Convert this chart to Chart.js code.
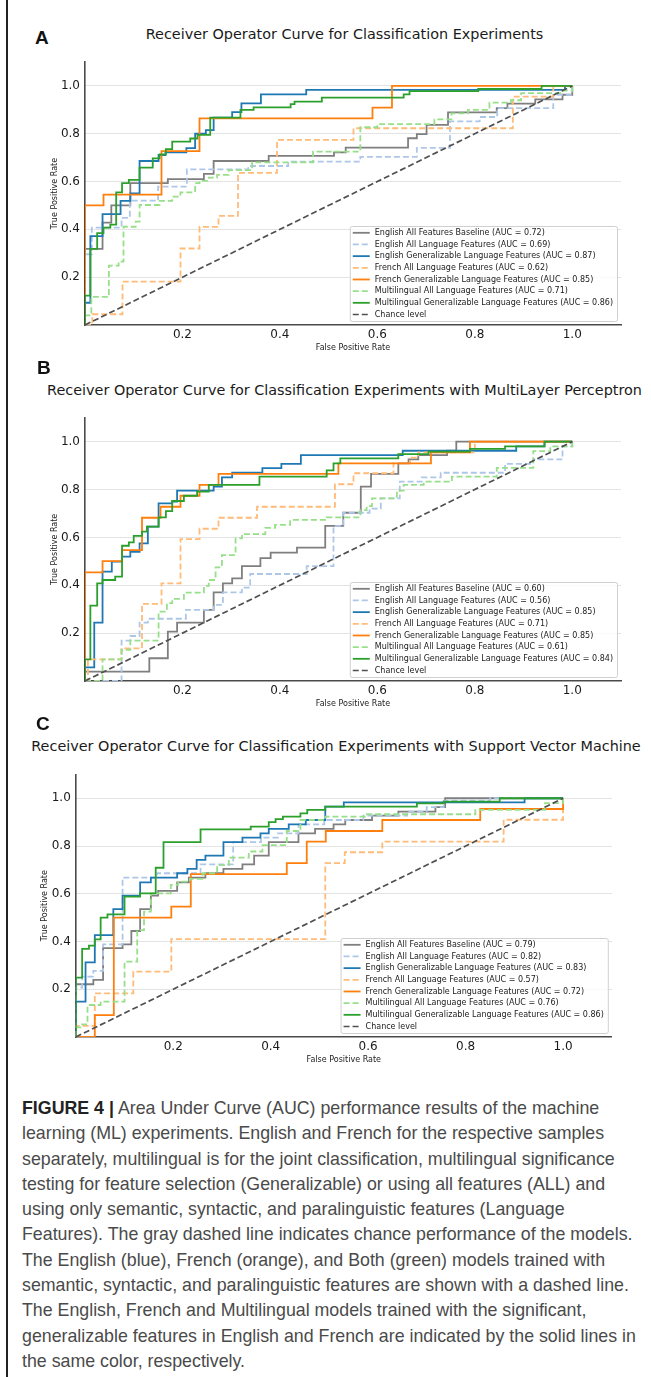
<!DOCTYPE html>
<html lang="en">
<head>
  <meta charset="UTF-8">
  <title>Figure 4 - ROC curves</title>
  <script src="https://cdn.jsdelivr.net/npm/chart.js"></script>
  <style>
    body { margin: 0; background: #fff; }
    #page { position: relative; width: 651px; height: 1377px; overflow: hidden; background: #fff; }
    canvas { position: absolute; left: 0; }
    .bar { position: absolute; left: 6px; top: 0; width: 1.5px; height: 1377px; background: #222; }
    .lab { position: absolute; font: bold 19px "Liberation Sans", Arial, sans-serif; color: #111; line-height: 20px; }
    .ttl { position: absolute; left: 0; text-align: center; font: 14.4px "DejaVu Sans", sans-serif; color: #1a1a1a; line-height: 18px; white-space: nowrap; }
    #caption { position: absolute; left: 22px; top: 1096px; font: 17.8px "Liberation Sans", Arial, sans-serif; color: #4a4a4a; line-height: 25.3px; white-space: nowrap; }
    #caption b { color: #222; }
  </style>
</head>
<body>
<div id="page">
  <div class="bar"></div>

  <div class="lab" style="left:35px;top:28px">A</div>
  <div class="ttl" style="width:689px;top:25px">Receiver Operator Curve for Classification Experiments</div>
  <canvas id="chartA" width="651" height="360" style="top:0"></canvas>

  <div class="lab" style="left:37px;top:358px">B</div>
  <div class="ttl" style="width:689px;top:381px">Receiver Operator Curve for Classification Experiments with MultiLayer Perceptron</div>
  <canvas id="chartB" width="651" height="355" style="top:360px"></canvas>

  <div class="lab" style="left:36px;top:714px">C</div>
  <div class="ttl" style="width:672px;top:737px">Receiver Operator Curve for Classification Experiments with Support Vector Machine</div>
  <canvas id="chartC" width="651" height="365" style="top:715px"></canvas>

  <div id="caption">
    <b>FIGURE 4 |</b> Area Under Curve (AUC) performance results of the machine<br>
    learning (ML) experiments. English and French for the respective samples<br>
    separately, multilingual is for the joint classification, multilingual significance<br>
    testing for feature selection (Generalizable) or using all features (ALL) and<br>
    using only semantic, syntactic, and paralinguistic features (Language<br>
    Features). The gray dashed line indicates chance performance of the models.<br>
    The English (blue), French (orange), and Both (green) models trained with<br>
    semantic, syntactic, and paralinguistic features are shown with a dashed line.<br>
    The English, French and Multilingual models trained with the significant,<br>
    generalizable features in English and French are indicated by the solid lines in<br>
    the same color, respectively.
  </div>
</div>

<script>
  // series names (same order in all three panels)
  const names = [
    'English All Features Baseline',
    'English All Language Features',
    'English Generalizable Language Features',
    'French All Language Features',
    'French Generalizable Language Features',
    'Multilingual All Language Features',
    'Multilingual Generalizable Language Features'
  ];
  const colors = ['#7f7f7f', '#aec7e8', '#1f77b4', '#ffbb78', '#ff7f0e', '#98df8a', '#2ca02c'];
  const dashed = [false, true, false, true, false, true, false];

  const xTicks = [0.2, 0.4, 0.6, 0.8, 1.0];
  const yTicks = [0.2, 0.4, 0.6, 0.8, 1.0];
  const chanceX = [0, 1];
  const chanceY = [0, 1];

  // ---- A: classification experiments ----
  const aucA = [0.72, 0.69, 0.87, 0.62, 0.85, 0.71, 0.86];
  const aGrayX = [0, 0, 0.036, 0.054, 0.093, 0.17, 0.244, 0.264, 0.377, 0.511, 0.535, 0.663, 0.681, 0.701, 0.745, 0.845, 0.867, 0.924, 0.98, 1.0];
  const aGrayY = [0, 0.318, 0.428, 0.5, 0.593, 0.61, 0.632, 0.686, 0.707, 0.722, 0.742, 0.781, 0.798, 0.837, 0.889, 0.907, 0.926, 0.944, 0.963, 1.0];
  const aLBlueX = [0, 0, 0.014, 0.075, 0.092, 0.15, 0.209, 0.335, 0.417, 0.565, 0.681, 0.749, 0.81, 0.846, 0.961, 1.0];
  const aLBlueY = [0, 0.296, 0.407, 0.448, 0.52, 0.579, 0.651, 0.665, 0.683, 0.703, 0.741, 0.852, 0.87, 0.907, 0.963, 1.0];
  const aBlueX = [0, 0, 0.011, 0.036, 0.073, 0.093, 0.112, 0.151, 0.165, 0.208, 0.226, 0.248, 0.264, 0.302, 0.321, 0.361, 0.454, 0.985, 1.0];
  const aBlueY = [0, 0.093, 0.372, 0.464, 0.519, 0.55, 0.686, 0.711, 0.722, 0.74, 0.8, 0.815, 0.867, 0.89, 0.927, 0.965, 0.983, 1.0, 1.0];
  const aLOrangeX = [0, 0.015, 0.077, 0.196, 0.235, 0.274, 0.314, 0.394, 0.551, 0.878, 0.961, 1.0];
  const aLOrangeY = [0, 0.045, 0.181, 0.32, 0.41, 0.456, 0.636, 0.774, 0.823, 0.955, 1.0, 1.0];
  const aOrangeX = [0, 0, 0.038, 0.157, 0.235, 0.59, 0.63, 1.0];
  const aOrangeY = [0, 0.5, 0.545, 0.727, 0.864, 0.909, 1.0, 1.0];
  const aLGreenX = [0, 0, 0.013, 0.049, 0.069, 0.079, 0.104, 0.112, 0.153, 0.179, 0.196, 0.226, 0.235, 0.254, 0.271, 0.295, 0.343, 0.468, 0.565, 0.6, 0.717, 0.752, 0.786, 0.83, 0.874, 0.895, 0.978, 1.0];
  const aLGreenY = [0, 0.04, 0.118, 0.248, 0.265, 0.411, 0.432, 0.502, 0.519, 0.537, 0.555, 0.593, 0.603, 0.616, 0.628, 0.648, 0.68, 0.725, 0.827, 0.84, 0.86, 0.885, 0.9, 0.93, 0.94, 0.97, 0.98, 1.0];
  const aGreenX = [0, 0, 0.011, 0.025, 0.038, 0.052, 0.064, 0.076, 0.09, 0.112, 0.139, 0.153, 0.166, 0.179, 0.216, 0.231, 0.257, 0.319, 0.346, 0.422, 0.43, 0.486, 0.654, 0.666, 0.807, 0.937, 1.0];
  const aGreenY = [0, 0.123, 0.318, 0.384, 0.407, 0.42, 0.555, 0.593, 0.607, 0.658, 0.697, 0.714, 0.736, 0.767, 0.78, 0.795, 0.867, 0.9, 0.91, 0.924, 0.934, 0.951, 0.965, 0.978, 0.987, 1.0, 1.0];

  // ---- B: MultiLayer Perceptron ----
  const aucB = [0.60, 0.56, 0.85, 0.71, 0.85, 0.61, 0.84];
  const bGrayX = [0, 0, 0.132, 0.17, 0.189, 0.244, 0.264, 0.283, 0.302, 0.322, 0.36, 0.381, 0.435, 0.493, 0.53, 0.566, 0.587, 0.643, 0.664, 0.684, 0.743, 0.762, 1.0];
  const bGrayY = [0, 0.039, 0.095, 0.206, 0.244, 0.297, 0.37, 0.408, 0.429, 0.48, 0.513, 0.536, 0.557, 0.648, 0.703, 0.812, 0.865, 0.909, 0.926, 0.944, 0.962, 1.0, 1.0];
  const bLBlueX = [0, 0.075, 0.093, 0.112, 0.129, 0.207, 0.264, 0.283, 0.322, 0.339, 0.455, 0.51, 0.53, 0.584, 0.607, 0.646, 0.691, 0.73, 0.862, 0.92, 0.98, 1.0];
  const bLBlueY = [0, 0.169, 0.188, 0.244, 0.26, 0.297, 0.318, 0.37, 0.39, 0.447, 0.48, 0.648, 0.703, 0.72, 0.763, 0.833, 0.851, 0.87, 0.907, 0.926, 0.98, 1.0];
  const bBlueX = [0, 0, 0.019, 0.036, 0.055, 0.076, 0.093, 0.112, 0.129, 0.151, 0.179, 0.189, 0.264, 0.281, 0.302, 0.364, 0.403, 0.443, 0.652, 0.885, 0.943, 1.0];
  const bBlueY = [0, 0.057, 0.244, 0.457, 0.499, 0.52, 0.54, 0.575, 0.645, 0.742, 0.75, 0.795, 0.812, 0.851, 0.87, 0.889, 0.907, 0.944, 0.962, 0.98, 1.0, 1.0];
  const bLOrangeX = [0, 0.006, 0.075, 0.117, 0.157, 0.196, 0.235, 0.274, 0.353, 0.513, 0.551, 0.633, 0.667, 0.684, 0.8, 1.0];
  const bLOrangeY = [0, 0.09, 0.136, 0.322, 0.408, 0.593, 0.636, 0.682, 0.728, 0.822, 0.868, 0.909, 0.933, 0.955, 1.0, 1.0];
  const bOrangeX = [0, 0, 0.036, 0.076, 0.117, 0.155, 0.196, 0.235, 0.274, 0.52, 0.71, 0.79, 1.0];
  const bOrangeY = [0, 0.454, 0.501, 0.547, 0.682, 0.728, 0.774, 0.819, 0.865, 0.909, 0.955, 1.0, 1.0];
  const bLGreenX = [0, 0.036, 0.075, 0.093, 0.151, 0.168, 0.179, 0.203, 0.244, 0.254, 0.268, 0.281, 0.309, 0.322, 0.37, 0.39, 0.421, 0.496, 0.565, 0.578, 0.589, 0.64, 0.654, 0.695, 0.753, 0.845, 0.92, 0.955, 1.0];
  const bLGreenY = [0, 0.09, 0.13, 0.169, 0.29, 0.325, 0.343, 0.369, 0.397, 0.422, 0.475, 0.526, 0.596, 0.614, 0.64, 0.652, 0.673, 0.684, 0.714, 0.731, 0.763, 0.795, 0.819, 0.833, 0.854, 0.89, 0.96, 0.98, 1.0];
  const bGreenX = [0, 0, 0.011, 0.025, 0.036, 0.062, 0.076, 0.09, 0.1, 0.117, 0.127, 0.151, 0.166, 0.179, 0.203, 0.23, 0.254, 0.358, 0.496, 0.51, 0.524, 0.643, 0.705, 0.79, 0.862, 0.943, 1.0];
  const bGreenY = [0, 0.09, 0.315, 0.408, 0.422, 0.436, 0.565, 0.579, 0.606, 0.624, 0.645, 0.684, 0.71, 0.752, 0.774, 0.791, 0.819, 0.854, 0.88, 0.909, 0.93, 0.948, 0.958, 0.97, 0.98, 1.0, 1.0];

  // ---- C: Support Vector Machine ----
  const aucC = [0.79, 0.82, 0.83, 0.57, 0.72, 0.76, 0.86];
  const cGrayX = [0, 0, 0.036, 0.056, 0.096, 0.114, 0.132, 0.154, 0.169, 0.208, 0.232, 0.266, 0.303, 0.342, 0.366, 0.396, 0.457, 0.491, 0.529, 0.553, 0.608, 0.662, 0.738, 0.758, 1.0];
  const cGrayY = [0, 0.221, 0.239, 0.372, 0.388, 0.444, 0.536, 0.592, 0.612, 0.648, 0.668, 0.686, 0.704, 0.723, 0.76, 0.816, 0.853, 0.872, 0.891, 0.909, 0.927, 0.944, 0.963, 1.0, 1.0];
  const cLBlueX = [0, 0, 0.013, 0.036, 0.056, 0.096, 0.167, 0.256, 0.323, 0.38, 0.415, 0.457, 0.51, 0.59, 0.68, 0.72, 0.755, 0.85, 1.0];
  const cLBlueY = [0, 0.207, 0.253, 0.277, 0.388, 0.668, 0.686, 0.723, 0.816, 0.835, 0.853, 0.891, 0.909, 0.927, 0.944, 0.963, 0.99, 1.0, 1.0];
  const cBlueX = [0, 0, 0.02, 0.039, 0.077, 0.096, 0.132, 0.154, 0.208, 0.229, 0.248, 0.266, 0.303, 0.342, 0.379, 0.396, 0.437, 0.472, 0.512, 0.55, 0.921, 1.0];
  const cBlueY = [0, 0.148, 0.313, 0.427, 0.536, 0.592, 0.648, 0.668, 0.686, 0.704, 0.742, 0.76, 0.816, 0.835, 0.853, 0.872, 0.891, 0.909, 0.965, 0.983, 1.0, 1.0];
  const cLOrangeX = [0, 0, 0.039, 0.118, 0.196, 0.512, 0.552, 0.629, 0.878, 1.0, 1.0];
  const cLOrangeY = [0, 0.047, 0.183, 0.274, 0.41, 0.728, 0.774, 0.818, 0.91, 0.91, 1.0];
  const cOrangeX = [0, 0.039, 0.078, 0.196, 0.236, 0.433, 0.474, 0.513, 0.629, 0.83, 1.0, 1.0];
  const cOrangeY = [0, 0.092, 0.5, 0.546, 0.682, 0.728, 0.818, 0.863, 0.909, 0.955, 0.955, 1.0];
  const cLGreenX = [0, 0, 0.013, 0.024, 0.051, 0.1, 0.126, 0.14, 0.154, 0.195, 0.21, 0.234, 0.26, 0.29, 0.314, 0.355, 0.383, 0.433, 0.461, 0.512, 0.594, 0.82, 0.963, 1.0];
  const cLGreenY = [0, 0.04, 0.053, 0.134, 0.148, 0.316, 0.448, 0.525, 0.602, 0.637, 0.651, 0.662, 0.686, 0.72, 0.751, 0.777, 0.804, 0.863, 0.909, 0.923, 0.933, 0.951, 0.98, 1.0];
  const cGreenX = [0, 0, 0.013, 0.027, 0.039, 0.051, 0.065, 0.1, 0.132, 0.164, 0.18, 0.256, 0.359, 0.396, 0.41, 0.425, 0.461, 0.475, 0.512, 0.7, 0.755, 0.87, 1.0];
  const cGreenY = [0, 0.249, 0.369, 0.383, 0.409, 0.5, 0.514, 0.588, 0.602, 0.709, 0.816, 0.87, 0.881, 0.9, 0.913, 0.923, 0.937, 0.951, 0.965, 0.979, 0.986, 1.0, 1.0];

  const FONT = "'DejaVu Sans', sans-serif";

  // legend drawn inside the plot, lower right, like matplotlib
  const legendBox = {
    id: 'legendBox',
    afterDatasetsDraw(chart) {
      const ctx = chart.ctx;
      const a = chart.chartArea;
      const items = chart.data.datasets;
      ctx.save();
      ctx.font = '8px ' + FONT;
      const tw = Math.max(...items.map(d => ctx.measureText(d.label).width));
      const w = 25 + tw + 4;
      const h = 95;
      const rowH = 11.67;
      const x0 = a.right - 4 - w;
      const y0 = a.bottom - 4 - h;
      ctx.beginPath();
      ctx.roundRect(x0 + 0.5, y0 + 0.5, w, h, 2);
      ctx.fillStyle = 'rgba(255,255,255,0.8)';
      ctx.fill();
      ctx.strokeStyle = '#d0d0d0';
      ctx.lineWidth = 1;
      ctx.stroke();
      items.forEach((d, i) => {
        const cy = y0 + 6.8 + i * rowH;
        ctx.beginPath();
        ctx.setLineDash(d.borderDash || []);
        ctx.strokeStyle = d.borderColor;
        ctx.lineWidth = d.borderWidth;
        ctx.moveTo(x0 + 3, cy);
        ctx.lineTo(x0 + 20, cy);
        ctx.stroke();
        ctx.setLineDash([]);
        ctx.fillStyle = '#1a1a1a';
        ctx.textBaseline = 'middle';
        ctx.fillText(d.label, x0 + 25, cy);
      });
      ctx.restore();
    }
  };

  function makeChart(id, g, xs, ys, aucs) {
    const datasets = names.map((n, i) => ({
      label: n + ' (AUC = ' + aucs[i].toFixed(2) + ')',
      data: xs[i].map((x, k) => ({ x: x, y: ys[i][k] })),
      borderColor: colors[i],
      borderWidth: 1.8,
      borderDash: dashed[i] ? [6, 3] : [],
      stepped: true,
      showLine: true,
      pointRadius: 0,
      order: 20 - i
    }));
    datasets.push({
      label: 'Chance level',
      data: chanceX.map((x, k) => ({ x: x, y: chanceY[k] })),
      borderColor: '#505050',
      borderWidth: 1.7,
      borderDash: [6, 3],
      showLine: true,
      pointRadius: 0,
      order: 0
    });

    return new Chart(document.getElementById(id), {
      type: 'scatter',
      data: { datasets: datasets },
      plugins: [legendBox],
      options: {
        responsive: false,
        animation: false,
        devicePixelRatio: 1,
        layout: { padding: { left: g.L - 40, right: 651 - g.R, top: g.T, bottom: g.H - g.B - 30 } },
        plugins: { legend: { display: false }, tooltip: { enabled: false } },
        scales: {
          x: {
            type: 'linear', min: 0, max: 1.1,
            afterBuildTicks: s => { s.ticks = xTicks.map(v => ({ value: v })); },
            afterFit: s => { s.height = 30; },
            grid: { display: false, drawTicks: false },
            border: { display: true, color: '#4a4a4a', width: 1.6 },
            ticks: { font: { family: FONT, size: 12 }, color: '#1a1a1a', padding: 3, maxRotation: 0,
                     callback: v => v.toFixed(1) },
            title: { display: true, text: 'False Positive Rate', font: { family: FONT, size: 8 },
                     color: '#222', padding: { top: 0, bottom: g.xtPad } }
          },
          y: {
            type: 'linear', min: 0, max: 1.1,
            afterBuildTicks: s => { s.ticks = yTicks.map(v => ({ value: v })); },
            afterFit: s => { s.width = 40; },
            grid: { color: '#c8c8c8', lineWidth: 1, drawTicks: false },
            border: { display: true, color: '#4a4a4a', width: 1.6, dash: [1, 1] },
            ticks: { font: { family: FONT, size: 12 }, color: '#1a1a1a', padding: 5,
                     callback: v => v.toFixed(1) },
            title: { display: true, text: 'True Positive Rate', font: { family: FONT, size: 8 },
                     color: '#222', padding: { top: g.ytPad, bottom: 0 } }
          }
        }
      }
    });
  }

  makeChart('chartA', { H: 360, L: 85, R: 621, T: 62, B: 325, xtPad: 2.2, ytPad: 4.7 },
    [aGrayX, aLBlueX, aBlueX, aLOrangeX, aOrangeX, aLGreenX, aGreenX],
    [aGrayY, aLBlueY, aBlueY, aLOrangeY, aOrangeY, aLGreenY, aGreenY], aucA);

  makeChart('chartB', { H: 355, L: 85, R: 621, T: 57.7, B: 321, xtPad: 2.7, ytPad: 4.7 },
    [bGrayX, bLBlueX, bBlueX, bLOrangeX, bOrangeX, bLGreenX, bGreenX],
    [bGrayY, bLBlueY, bBlueY, bLOrangeY, bOrangeY, bLGreenY, bGreenY], aucB);

  makeChart('chartC', { H: 365, L: 75.8, R: 611.8, T: 59.4, B: 322, xtPad: 2.2, ytPad: 4.4 },
    [cGrayX, cLBlueX, cBlueX, cLOrangeX, cOrangeX, cLGreenX, cGreenX],
    [cGrayY, cLBlueY, cBlueY, cLOrangeY, cOrangeY, cLGreenY, cGreenY], aucC);
</script>
</body>
</html>
